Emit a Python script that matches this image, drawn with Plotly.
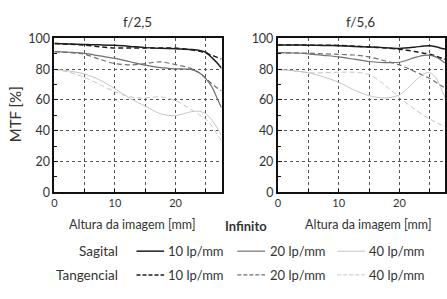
import plotly.graph_objects as go

W, H = 447, 299

x_pos = [0, 2.5, 5, 7.5, 10, 12.5, 15, 17.5, 20, 22.5, 24, 25, 26, 27, 27.6]

# f/2,5
f25_sag10 = [96.7, 96.4, 96.0, 95.8, 95.5, 94.8, 94.0, 93.6, 93.3, 92.8, 92.2, 91.0, 87.5, 83.5, 80.5]
f25_tan10 = [96.7, 96.2, 95.6, 94.6, 93.8, 93.7, 93.8, 93.8, 93.7, 92.6, 91.6, 90.5, 89.0, 87.5, 86.6]
f25_sag20 = [91.4, 91.0, 90.3, 88.6, 87.0, 84.8, 82.6, 81.0, 80.2, 79.8, 77.5, 73.8, 68.5, 60.0, 55.0]
f25_tan20 = [91.4, 90.8, 89.7, 86.4, 83.6, 82.8, 83.6, 84.8, 83.0, 80.5, 77.5, 74.0, 70.5, 67.5, 66.0]
f25_sag40 = [79.8, 78.8, 76.8, 73.0, 67.2, 61.0, 56.0, 51.0, 49.8, 52.3, 52.6, 51.0, 47.0, 41.0, 37.0]
f25_tan40 = [79.8, 78.0, 74.6, 70.0, 65.3, 62.0, 61.3, 62.0, 59.5, 54.0, 50.0, 47.5, 43.0, 37.0, 33.5]

# f/5,6
f56_sag10 = [95.7, 95.7, 95.6, 95.4, 95.2, 94.8, 94.4, 94.0, 93.5, 94.3, 95.0, 95.2, 94.5, 93.5, 93.0]
f56_tan10 = [95.7, 95.7, 95.6, 95.6, 95.4, 95.0, 94.4, 93.8, 93.0, 91.5, 90.4, 89.7, 88.5, 87.0, 86.4]
f56_sag20 = [90.7, 90.5, 90.0, 89.0, 88.0, 86.5, 85.0, 84.3, 84.5, 87.5, 89.0, 89.0, 88.0, 85.5, 83.8]
f56_tan20 = [90.7, 90.6, 90.4, 90.0, 89.6, 89.2, 88.0, 85.5, 82.8, 78.5, 75.8, 74.0, 71.5, 69.0, 67.5]
f56_sag40 = [79.8, 79.0, 77.7, 75.0, 71.5, 66.5, 62.8, 61.2, 63.3, 72.0, 77.0, 77.7, 74.5, 66.0, 61.0]
f56_tan40 = [79.8, 79.0, 77.7, 77.7, 78.0, 78.0, 76.5, 70.0, 61.5, 54.0, 50.0, 47.5, 45.5, 43.5, 42.5]

x_tickvals = [0, 5, 10, 15, 20, 25]
x_ticktext = ["0", "", "10", "", "20", ""]
y_tickvals = [0, 20, 40, 60, 80, 100]

titles = ["f/2,5", "f/5,6"]
row_labels = ["Sagital", "Tangencial"]
freq_labels = ["10 lp/mm", "20 lp/mm", "40 lp/mm"]
x_title = "Altura da imagem [mm]"
y_title = "MTF [%]"
center_label = "Infinito"

colors = ["#1e1e1e", "#707070", "#c4c4c4"]
widths = [1.5, 1.2, 1.0]
TEXT = "#333333"
FONT = "Lato"
DASH = "5px,3px"

def px(x):
    return x / W

def py(y):
    return 1 - y / H

fig = go.Figure()

panels = [
    ("x", "y", [f25_sag10, f25_sag20, f25_sag40], [f25_tan10, f25_tan20, f25_tan40]),
    ("x2", "y2", [f56_sag10, f56_sag20, f56_sag40], [f56_tan10, f56_tan20, f56_tan40]),
]
for xa, ya, sag, tan in panels:
    for i in range(3):
        fig.add_trace(go.Scatter(x=x_pos, y=tan[i], xaxis=xa, yaxis=ya, mode="lines",
                                 line=dict(color=colors[i], width=widths[i], dash=DASH, shape="spline", smoothing=0.8),
                                 showlegend=False, hoverinfo="skip"))
        fig.add_trace(go.Scatter(x=x_pos, y=sag[i], xaxis=xa, yaxis=ya, mode="lines",
                                 line=dict(color=colors[i], width=widths[i], shape="spline", smoothing=0.8),
                                 showlegend=False, hoverinfo="skip"))

def xaxis(domain, rng):
    return dict(domain=domain, range=rng, tickmode="array", tickvals=x_tickvals, ticktext=x_ticktext,
                showgrid=True, gridcolor="#555555", gridwidth=1, griddash="dot",
                showline=True, linecolor="#111111", linewidth=2, mirror=True,
                ticks="inside", ticklen=3, tickcolor="#111111",
                tickfont=dict(family=FONT, size=11, color=TEXT), zeroline=False, fixedrange=True)

def yaxis(anchor):
    return dict(domain=[py(194), py(32)], range=[0, 100], tickmode="array", tickvals=y_tickvals,
                showgrid=True, gridcolor="#555555", gridwidth=1, griddash="dot",
                showline=True, linecolor="#111111", linewidth=2, mirror=True,
                ticks="inside", ticklen=4, tickcolor="#111111",
                minor=dict(tickvals=[10, 30, 50, 70, 90], ticks="inside", ticklen=3, tickcolor="#111111", showgrid=False),
                tickfont=dict(family=FONT, size=12.5, color=TEXT), zeroline=False, anchor=anchor, fixedrange=True)

fig.update_layout(
    width=W, height=H, margin=dict(l=0, r=0, t=0, b=0),
    paper_bgcolor="white", plot_bgcolor="white",
    xaxis=dict(**xaxis([px(52), px(221)], [0, 27.6]), anchor="y"),
    yaxis=yaxis("x"),
    xaxis2=dict(**xaxis([px(278), 1.0], [0, 27.5]), anchor="y2"),
    yaxis2=yaxis("x2"),
)

ann = []
ann.append(dict(x=px(136), y=py(15), text=titles[0], font=dict(family=FONT, size=13.5, color=TEXT)))
ann.append(dict(x=px(362), y=py(15), text=titles[1], font=dict(family=FONT, size=13.5, color=TEXT)))
ann.append(dict(x=px(13), y=py(112), text=y_title, textangle=-90, font=dict(family=FONT, size=15, color=TEXT)))
ann.append(dict(x=px(131), y=py(228), text=x_title, font=dict(family=FONT, size=12.5, color=TEXT)))
ann.append(dict(x=px(370), y=py(228), text=x_title, font=dict(family=FONT, size=12.5, color=TEXT)))
ann.append(dict(x=px(246), y=py(229), text="<b>" + center_label + "</b>", font=dict(family=FONT, size=13, color=TEXT)))

rows_y = [256, 281]
line_x = [(135, 163), (237, 265), (338, 366)]
text_x = [165, 268, 368]
for r, yy in enumerate(rows_y):
    ann.append(dict(x=px(118), y=py(yy), text=row_labels[r], xanchor="right",
                    font=dict(family=FONT, size=13.5, color=TEXT)))
    for i in range(3):
        ann.append(dict(x=px(text_x[i]), y=py(yy), text=freq_labels[i], xanchor="left",
                        font=dict(family=FONT, size=13, color=TEXT)))
        fig.add_shape(type="line", xref="paper", yref="paper",
                      x0=px(line_x[i][0]), x1=px(line_x[i][1]), y0=py(yy), y1=py(yy),
                      line=dict(color=colors[i], width=widths[i], dash="solid" if r == 0 else "4px,2px"))

for a in ann:
    a.update(xref="paper", yref="paper", showarrow=False)
    a.setdefault("xanchor", "center")
    a.setdefault("yanchor", "middle")
fig.update_layout(annotations=ann)

fig.write_html("out.html", config={"displayModeBar": False, "staticPlot": True},
               post_script="document.body.style.margin='0';document.body.style.overflow='hidden';")
